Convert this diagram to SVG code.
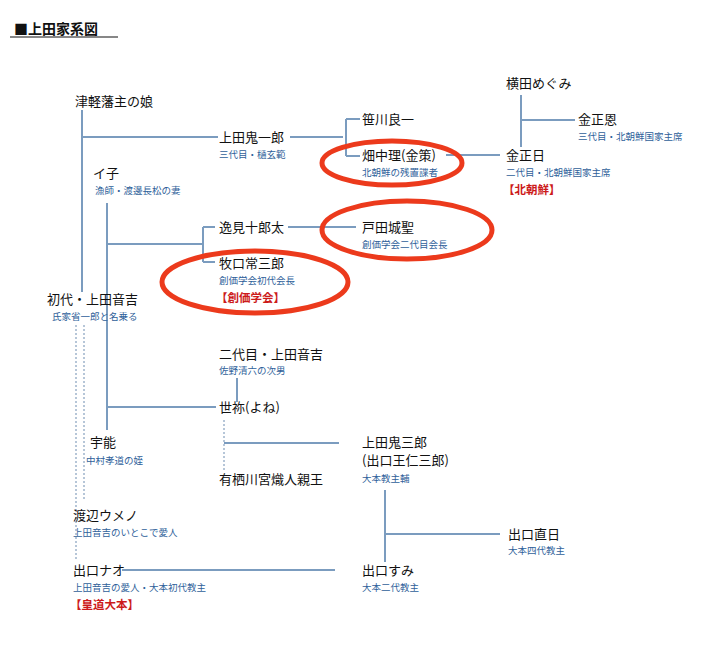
<svg xmlns="http://www.w3.org/2000/svg" width="723" height="652" viewBox="0 0 723 652">
<style>
text{font-family:"Noto Sans CJK JP","Liberation Sans",sans-serif}
.n{font-size:13px;fill:#111}
.s{font-size:9.5px;fill:#2f5f9a}
.r{font-size:11.5px;fill:#cc1a1a;font-weight:bold}
.l{stroke:#7b9cbf;stroke-width:2;fill:none}
.d{stroke:#9fb4cc;stroke-width:1.5;fill:none;stroke-dasharray:2,2}
.e{stroke:#ec3a1c;stroke-width:5;fill:none}
</style>
<rect width="723" height="652" fill="#fff"/>
<g id="title"><text x="14" y="34" style="font-size:14px;font-weight:bold;fill:#111">■上田家系図</text><line x1="10" y1="37" x2="118" y2="37" stroke="#111" stroke-width="1.2"/></g>
<g id="connectors">
<path class="l" d="M82 110V292M82 137H218M290 137H343M346 119V156M346 119H360M346 156H360M446 155H500M521 95V147M521 120H575M107 203V430M107 244H203M203 227V262M203 227H215M203 262H215M288 227H356M122 570H335M107 407H216M237 378V402M224 443H339M385 490V562M385 534H500"/>
<path class="d" d="M76 325V560M84 325V500M224 420V472"/>
</g>
<g id="n1"><text class="n" x="75" y="106">津軽藩主の娘</text></g>
<g id="n2"><text class="n" x="219" y="142">上田鬼一郎</text><text class="s" x="219" y="158">三代目・樋玄範</text></g>
<g id="n3"><text class="n" x="362" y="124">笹川良一</text></g>
<g id="n4"><text class="n" x="362" y="160">畑中理(金策)</text><text class="s" x="362" y="176">北朝鮮の残置諜者</text></g>
<g id="n5"><text class="n" x="506" y="88">横田めぐみ</text></g>
<g id="n6"><text class="n" x="578" y="124">金正恩</text><text class="s" x="578" y="140">三代目・北朝鮮国家主席</text></g>
<g id="n7"><text class="n" x="506" y="160">金正日</text><text class="s" x="506" y="176">二代目・北朝鮮国家主席</text><text class="r" x="503" y="194">【北朝鮮】</text></g>
<g id="n8"><text class="n" x="93" y="178">イ子</text><text class="s" x="95" y="194">漁師・渡邊長松の妻</text></g>
<g id="n9"><text class="n" x="219" y="232">逸見十郎太</text></g>
<g id="n10"><text class="n" x="219" y="268">牧口常三郎</text><text class="s" x="219" y="284">創価学会初代会長</text><text class="r" x="216" y="302">【創価学会】</text></g>
<g id="n11"><text class="n" x="362" y="232">戸田城聖</text><text class="s" x="362" y="248">創価学会二代目会長</text></g>
<g id="n12"><text class="n" x="47" y="304">初代・上田音吉</text><text class="s" x="52" y="320">氏家省一郎と名乗る</text></g>
<g id="n13"><text class="n" x="219" y="359">二代目・上田音吉</text><text class="s" x="219" y="374">佐野清六の次男</text></g>
<g id="n14"><text class="n" x="219" y="412">世祢(よね)</text></g>
<g id="n15"><text class="n" x="90" y="447">宇能</text><text class="s" x="86" y="464">中村孝道の姪</text></g>
<g id="n16"><text class="n" x="362" y="447">上田鬼三郎</text><text class="n" x="362" y="465">(出口王仁三郎)</text><text class="s" x="362" y="482">大本教主輔</text></g>
<g id="n17"><text class="n" x="219" y="484">有栖川宮熾人親王</text></g>
<g id="n18"><text class="n" x="73" y="520">渡辺ウメノ</text><text class="s" x="73" y="536">上田音吉のいとこで愛人</text></g>
<g id="n19"><text class="n" x="508" y="539">出口直日</text><text class="s" x="508" y="554">大本四代教主</text></g>
<g id="n20"><text class="n" x="73" y="575">出口ナオ</text><text class="s" x="73" y="591">上田音吉の愛人・大本初代教主</text><text class="r" x="70" y="609">【皇道大本】</text></g>
<g id="n21"><text class="n" x="362" y="575">出口すみ</text><text class="s" x="362" y="591">大本二代教主</text></g>
<g id="highlights">
<ellipse class="e" cx="392" cy="163" rx="70" ry="22"/>
<ellipse class="e" cx="407" cy="230" rx="85" ry="29"/>
<ellipse class="e" cx="255" cy="282" rx="93" ry="31"/>
</g>
</svg>
